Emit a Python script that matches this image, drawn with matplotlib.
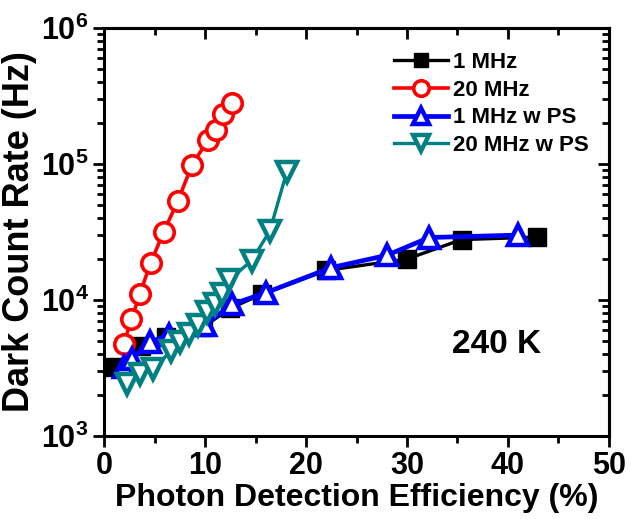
import numpy as np
import matplotlib.pyplot as plt
from matplotlib.ticker import FixedLocator, FixedFormatter, LogLocator, MultipleLocator, NullFormatter

plt.rcParams['font.family'] = ['Liberation Sans', 'DejaVu Sans']
plt.rcParams['font.weight'] = 'bold'
plt.rcParams['mathtext.fontset'] = 'custom'
plt.rcParams['mathtext.bf'] = 'Liberation Sans:bold'
plt.rcParams['mathtext.rm'] = 'Liberation Sans:bold'

# data
x_1mhz = [1.0, 3.7, 6.1, 9.8, 12.5, 15.6, 22.0, 30.0, 35.4, 42.9]
y_1mhz = [3200, 4600, 5300, 6300, 8700, 11000, 16500, 20000, 27800, 29000]

x_20mhz = [1.95, 2.7, 3.55, 4.6, 5.9, 7.3, 8.7, 10.3, 11.05, 11.8, 12.7]
y_20mhz = [4750, 7200, 11100, 18700, 31600, 53500, 98000, 151000, 179000, 233000, 279000]

x_1mhz_ps = [2.0, 2.8, 4.5, 6.4, 10.0, 12.7, 16.0, 22.5, 28.0, 32.2, 41.0]
y_1mhz_ps = [3200, 3700, 4900, 5500, 6600, 9300, 11300, 17300, 21300, 28800, 30000]

x_20mhz_ps = [2.3, 3.6, 4.8, 6.6, 7.5, 8.4, 9.3, 10.2, 11.0, 11.7, 12.4, 14.6, 16.4, 18.1]
y_20mhz_ps = [2400, 2850, 3100, 4200, 4900, 5600, 6600, 8100, 9300, 11000, 14000, 19500, 32000, 88000]

y_ticks = [1e3, 1e4, 1e5, 1e6]
y_ticklabels = [r'$\mathbf{10^{3}}$', r'$\mathbf{10^{4}}$', r'$\mathbf{10^{5}}$', r'$\mathbf{10^{6}}$']

fig = plt.figure(figsize=(6.31, 5.19), dpi=100)
ax = fig.add_axes([0.165, 0.16, 0.8, 0.786])

ax.plot(x_1mhz, y_1mhz, c='k', lw=2.4, marker='s', ms=13, label='1 MHz')
ax.plot(x_20mhz, y_20mhz, c='#ff0000', lw=2.6, marker='o', ms=14, mfc='white', mew=2.6, label='20 MHz')
ax.plot(x_1mhz_ps, y_1mhz_ps, c='#0000ff', lw=3.4, marker='^', ms=14, mfc='white', mew=3.2, label='1 MHz w PS')
ax.plot(x_20mhz_ps, y_20mhz_ps, c='#008080', lw=2.4, marker='v', ms=14, mfc='white', mew=3.2, label='20 MHz w PS')

ax.set_yscale('log')
ax.set_xlim(0, 50)
ax.set_ylim(1e3, 1e6)
ax.xaxis.set_major_locator(MultipleLocator(10))
ax.xaxis.set_minor_locator(MultipleLocator(5))
ax.yaxis.set_major_locator(FixedLocator(y_ticks))
ax.yaxis.set_major_formatter(FixedFormatter(y_ticklabels))
ax.yaxis.set_minor_locator(LogLocator(base=10, subs=np.arange(2, 10)))
ax.yaxis.set_minor_formatter(NullFormatter())

ax.tick_params(which='both', direction='out', width=2, labelsize=22)
ax.tick_params(which='major', length=8)
ax.tick_params(which='minor', length=5)
ax.tick_params(axis='x', pad=3)
ax.tick_params(axis='y', pad=3)
for s in ax.spines.values():
    s.set_linewidth(2.2)

# inward ticks on top and right
top = ax.secondary_xaxis('top')
top.xaxis.set_major_locator(MultipleLocator(10))
top.xaxis.set_minor_locator(MultipleLocator(5))
top.tick_params(which='both', direction='in', width=2, labeltop=False)
top.tick_params(which='major', length=8)
top.tick_params(which='minor', length=5)
top.spines['top'].set_linewidth(2.2)
right = ax.secondary_yaxis('right')
right.yaxis.set_major_locator(FixedLocator(y_ticks))
right.yaxis.set_minor_locator(LogLocator(base=10, subs=np.arange(2, 10)))
right.tick_params(which='both', direction='in', width=2, labelright=False)
right.tick_params(which='major', length=8)
right.tick_params(which='minor', length=5)
right.spines['right'].set_linewidth(2.2)

ax.set_xlabel('Photon Detection Efficiency (%)', fontsize=23, fontweight='bold', labelpad=1)
ax.set_ylabel('Dark Count Rate (Hz)', fontsize=26, fontweight='bold', labelpad=3)

ax.text(0.69, 0.225, '240 K', transform=ax.transAxes, fontsize=24, fontweight='bold', va='center')

ax.legend(loc='upper right', frameon=False, fontsize=16, handlelength=2.4, handletextpad=0.25,
          labelspacing=0.3, markerscale=0.8, bbox_to_anchor=(1.0, 0.99))

fig.savefig('out.png', dpi=100)
